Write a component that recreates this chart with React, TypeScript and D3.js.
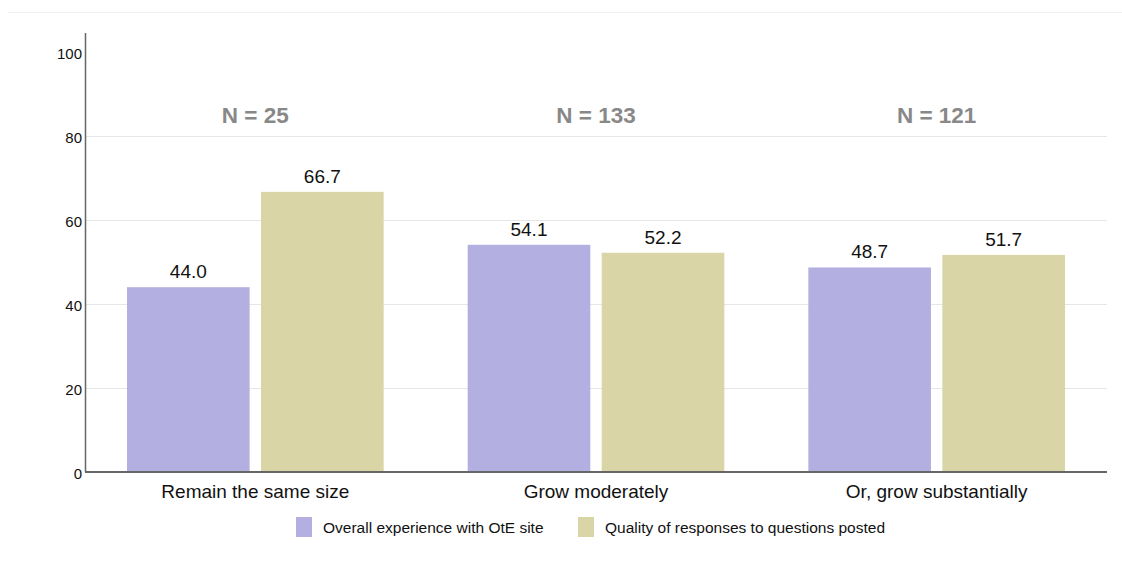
import * as d3 from "d3";
import { useEffect, useRef } from "react";

const categories = ["Remain the same size", "Grow moderately", "Or, grow substantially"];
const sampleSizes = ["N = 25", "N = 133", "N = 121"];
const seriesNames = ["Overall experience with OtE site", "Quality of responses to questions posted"];
const overallExperience = [44.0, 54.1, 48.7];
const responseQuality = [66.7, 52.2, 51.7];
const yTicks = [0, 20, 40, 60, 80, 100];
const colors = ["#b3afe0", "#dad5a6"];

const App: React.FC = () => {
  const svgRef = useRef<SVGSVGElement | null>(null);

  useEffect(() => {
    d3.select(svgRef.current).selectAll("*").remove();

    const width = 1122;
    const height = 571;
    const margin = { top: 33, right: 15, bottom: 99, left: 85 };
    const innerW = width - margin.left - margin.right;
    const innerH = height - margin.top - margin.bottom;

    const svg = d3.select(svgRef.current).attr("width", width).attr("height", height);
    const font = "'Liberation Sans', Arial, sans-serif";

    // light frame line at the top
    svg.append("line")
      .attr("x1", 8).attr("x2", width)
      .attr("y1", 12.5).attr("y2", 12.5)
      .attr("stroke", "#f0f0f0");

    const g = svg.append("g").attr("transform", `translate(${margin.left},${margin.top})`);

    const x0 = d3.scaleBand().domain(categories).range([0, innerW]);
    const x1 = d3.scaleBand().domain(["0", "1"]).range([42, x0.bandwidth() - 42]).paddingInner(0.085);
    const y = d3.scaleLinear().domain([0, 100]).range([innerH, innerH - 420]);

    // gridlines
    g.selectAll(".grid")
      .data(yTicks.filter((t) => t > 0 && t < 100))
      .join("line")
      .attr("x1", 0).attr("x2", innerW)
      .attr("y1", (d) => Math.round(y(d)) + 0.5).attr("y2", (d) => Math.round(y(d)) + 0.5)
      .attr("stroke", "#e6e6e6");

    // tick labels
    g.selectAll(".tick")
      .data(yTicks)
      .join("text")
      .attr("x", -3)
      .attr("y", (d) => y(d))
      .attr("dy", "0.45em")
      .attr("text-anchor", "end")
      .attr("font-family", font)
      .attr("font-size", 15)
      .attr("fill", "#111")
      .text((d) => d);

    const series = [overallExperience, responseQuality];

    categories.forEach((cat, ci) => {
      const gx = x0(cat) as number;
      series.forEach((vals, si) => {
        const bx = gx + (x1(String(si)) as number);
        g.append("rect")
          .attr("x", bx)
          .attr("y", y(vals[ci]))
          .attr("width", x1.bandwidth())
          .attr("height", innerH - y(vals[ci]))
          .attr("fill", colors[si]);
        g.append("text")
          .attr("x", bx + x1.bandwidth() / 2)
          .attr("y", y(vals[ci]) - 9)
          .attr("text-anchor", "middle")
          .attr("font-family", font)
          .attr("font-size", 19)
          .attr("fill", "#111")
          .text(vals[ci].toFixed(1));
      });

      g.append("text")
        .attr("x", gx + x0.bandwidth() / 2)
        .attr("y", 123 - margin.top)
        .attr("text-anchor", "middle")
        .attr("font-family", font)
        .attr("font-size", 22.5)
        .attr("font-weight", "bold")
        .attr("fill", "#888")
        .text(sampleSizes[ci]);

      g.append("text")
        .attr("x", gx + x0.bandwidth() / 2)
        .attr("y", innerH + 26)
        .attr("text-anchor", "middle")
        .attr("font-family", font)
        .attr("font-size", 19)
        .attr("fill", "#111")
        .text(cat);
    });

    // axes lines
    g.append("line")
      .attr("x1", 0.5).attr("x2", 0.5)
      .attr("y1", 0).attr("y2", innerH)
      .attr("stroke", "#666").attr("stroke-width", 1.5);
    g.append("line")
      .attr("x1", 0).attr("x2", innerW)
      .attr("y1", innerH).attr("y2", innerH)
      .attr("stroke", "#666").attr("stroke-width", 2);

    // legend
    const legendX = [296, 578];
    seriesNames.forEach((name, i) => {
      const lg = svg.append("g").attr("transform", `translate(${legendX[i]},517)`);
      lg.append("rect").attr("width", 16).attr("height", 20).attr("fill", colors[i]);
      lg.append("text")
        .attr("x", 27)
        .attr("y", 16)
        .attr("font-family", font)
        .attr("font-size", 15.5)
        .attr("fill", "#111")
        .text(name);
    });
  }, []);

  return (
    <div style={{ position: "absolute", left: 0, top: 0, background: "#fff" }}>
      <svg ref={svgRef} style={{ display: "block" }}></svg>
    </div>
  );
};

export default App;
